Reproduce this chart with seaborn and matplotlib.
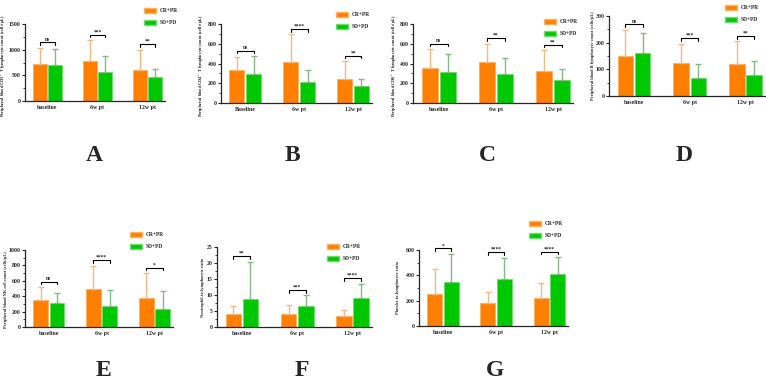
import pandas as pd
import matplotlib.pyplot as plt
import seaborn as sns
from matplotlib.patches import Patch
from matplotlib.ticker import MultipleLocator, AutoMinorLocator

timepoints = ["baseline", "6w pt", "12w pt"]
timepoints_b = ["Baseline", "6w pt", "12w pt"]
groups = ["CR+PR", "SD+PD"]

# mean values (CR+PR, SD+PD) and upper SD for each panel
cd3_cr, cd3_sd = [720, 775, 605], [710, 560, 460]
cd3_cr_err, cd3_sd_err = [320, 415, 395], [310, 320, 160]
cd3_sig = ["ns", "***", "**"]

cd4_cr, cd4_sd = [330, 420, 245], [295, 210, 175]
cd4_cr_err, cd4_sd_err = [140, 275, 180], [180, 120, 65]
cd4_sig = ["ns", "****", "**"]

cd8_cr, cd8_sd = [355, 420, 325], [315, 290, 235]
cd8_cr_err, cd8_sd_err = [190, 180, 210], [180, 165, 105]
cd8_sig = ["ns", "**", "**"]

b_cr, b_sd = [150, 122, 119], [160, 68, 77]
b_cr_err, b_sd_err = [98, 74, 86], [76, 53, 55]
b_sig = ["ns", "***", "**"]

nk_cr, nk_sd = [345, 490, 380], [310, 275, 240]
nk_cr_err, nk_sd_err = [175, 305, 320], [130, 205, 225]
nk_sig = ["ns", "****", "*"]

nlr_cr, nlr_sd = [4.2, 4.1, 3.5], [8.9, 6.7, 9.0]
nlr_cr_err, nlr_sd_err = [2.3, 2.7, 1.8], [11.4, 3.2, 4.5]
nlr_sig = ["**", "***", "****"]

plr_cr, plr_sd = [255, 180, 220], [350, 370, 410]
plr_cr_err, plr_sd_err = [195, 85, 120], [220, 170, 135]
plr_sig = ["*", "****", "****"]

bar_colors = ["#FF8000", "#00C800"]
edge_colors = ["#FFB060", "#70DD70"]
err_colors = ["#EDBB88", "#86B886"]

W, H = 766, 380
serif = "Liberation Serif"

panels = [
    # letter, cats, cr, sd, cr_err, sd_err, sig, ylabel, ymax, step,
    # axes box (l, r, t, b px), ylabel (x, y centre px), legend (x, y px), letter pos
    ("A", timepoints, cd3_cr, cd3_sd, cd3_cr_err, cd3_sd_err, cd3_sig,
     "Peripheral blood CD3$^+$ T lymphocyte count (cells/μL)", 1500, 500,
     (25, 165, 24, 101), (8, 66), (144, 8), (94, 155)),
    ("B", timepoints_b, cd4_cr, cd4_sd, cd4_cr_err, cd4_sd_err, cd4_sig,
     "Peripheral blood CD4$^+$ T lymphocyte count (cells/μL)", 800, 200,
     (221, 372, 24, 103), (206, 66), (336, 12), (292, 155)),
    ("C", timepoints, cd8_cr, cd8_sd, cd8_cr_err, cd8_sd_err, cd8_sig,
     "Peripheral blood CD8$^+$ T lymphocyte count (cells/μL)", 800, 200,
     (413, 573, 24, 103), (399, 66), (544, 19), (487, 155)),
    ("D", timepoints, b_cr, b_sd, b_cr_err, b_sd_err, b_sig,
     "Peripheral blood B lymphocyte count (cells/μL)", 300, 100,
     (609, 765, 16, 96), (595, 56), (725, 5), (684, 155)),
    ("E", timepoints, nk_cr, nk_sd, nk_cr_err, nk_sd_err, nk_sig,
     "Peripheral blood NK cell count (cells/μL)", 1000, 200,
     (25, 173, 250, 327), (8, 290), (130, 232), (103, 370)),
    ("F", timepoints, nlr_cr, nlr_sd, nlr_cr_err, nlr_sd_err, nlr_sig,
     "Neutrophil-to-lymphocyte ratio", 25, 5,
     (217, 372, 247, 327), (205, 287), (327, 244), (302, 370)),
    ("G", timepoints, plr_cr, plr_sd, plr_cr_err, plr_sd_err, plr_sig,
     "Platelet-to-lymphocyte ratio", 600, 200,
     (419, 568, 250, 326), (400, 288), (529, 221), (495, 370)),
]

sns.set_style("ticks")
plt.rcParams["font.family"] = [serif, "DejaVu Serif"]
plt.rcParams["font.weight"] = "bold"
plt.rcParams["mathtext.fontset"] = "custom"
plt.rcParams["mathtext.rm"] = serif + ":bold"
plt.rcParams["mathtext.it"] = serif + ":bold"
plt.rcParams["mathtext.bf"] = serif + ":bold"

fig = plt.figure(figsize=(W / 100, H / 100), dpi=100)

for (letter, cats, cr, sd, cr_err, sd_err, sig, ylabel, ymax, step,
     box, ylab_pos, leg_pos, let_pos) in panels:
    l, r, t, b = box
    ax = fig.add_axes([l / W, 1 - b / H, (r - l) / W, (b - t) / H])

    df = pd.DataFrame({
        "time": cats * 2,
        "group": [groups[0]] * 3 + [groups[1]] * 3,
        "value": cr + sd,
    })
    sns.barplot(data=df, x="time", y="value", hue="group", order=cats,
                hue_order=groups, palette=bar_colors, saturation=1,
                width=0.62, gap=0.1, errorbar=None, legend=False, ax=ax)

    tops = []
    for gi, (cont, errs) in enumerate(zip(ax.containers, [cr_err, sd_err])):
        xs, ys = [], []
        for bar in cont:
            bar.set_edgecolor(edge_colors[gi])
            bar.set_linewidth(0.7)
            xs.append(bar.get_x() + bar.get_width() / 2)
            ys.append(bar.get_height())
        ax.errorbar(xs, ys, yerr=[[0] * 3, errs], fmt="none",
                    ecolor=err_colors[gi], elinewidth=1.0, capsize=2.5,
                    capthick=1.0, zorder=1)
        tops.append((xs, [y + e for y, e in zip(ys, errs)]))

    # significance brackets
    for i in range(3):
        x0, x1 = tops[0][0][i], tops[1][0][i]
        yb = max(tops[0][1][i], tops[1][1][i]) + 0.07 * ymax
        tick = 0.035 * ymax
        ax.plot([x0, x0, x1, x1], [yb - tick, yb, yb, yb - tick],
                color="black", lw=0.8, clip_on=False)
        ax.text((x0 + x1) / 2, yb + 0.005 * ymax, sig[i], ha="center",
                va="bottom", fontsize=4, fontweight="bold")

    ax.set_ylim(0, ymax)
    ax.set_xlim(-0.45, 2.35)
    ax.yaxis.set_major_locator(MultipleLocator(step))
    ax.yaxis.set_minor_locator(AutoMinorLocator(2))
    ax.set_xlabel("")
    ax.set_ylabel(ylabel, fontsize=3.2, fontweight="bold")
    ax.yaxis.set_label_coords((ylab_pos[0] - l) / (r - l),
                              (b - ylab_pos[1]) / (b - t))
    ax.tick_params(axis="both", labelsize=4.2, width=0.8, length=2, pad=1)
    ax.tick_params(axis="y", which="minor", width=0.6, length=1.3)
    ax.tick_params(axis="x", length=0, pad=3)
    for lab in ax.get_xticklabels() + ax.get_yticklabels():
        lab.set_fontweight("bold")
    sns.despine(ax=ax)
    for s in ["left", "bottom"]:
        ax.spines[s].set_linewidth(0.9)

    handles = [Patch(facecolor=bar_colors[k], edgecolor=edge_colors[k],
                     label=groups[k]) for k in range(2)]
    ax.legend(handles=handles, loc="upper left", frameon=False,
              bbox_to_anchor=(leg_pos[0] / W, 1 - leg_pos[1] / H),
              bbox_transform=fig.transFigure, fontsize=4,
              handlelength=2.2, handleheight=1.0, labelspacing=1.2,
              handletextpad=0.6, borderaxespad=0, borderpad=0)

    fig.text(let_pos[0] / W, 1 - let_pos[1] / H, letter, ha="center",
             va="center", fontsize=17, fontweight="bold")

fig.savefig("out.png", dpi=100)
